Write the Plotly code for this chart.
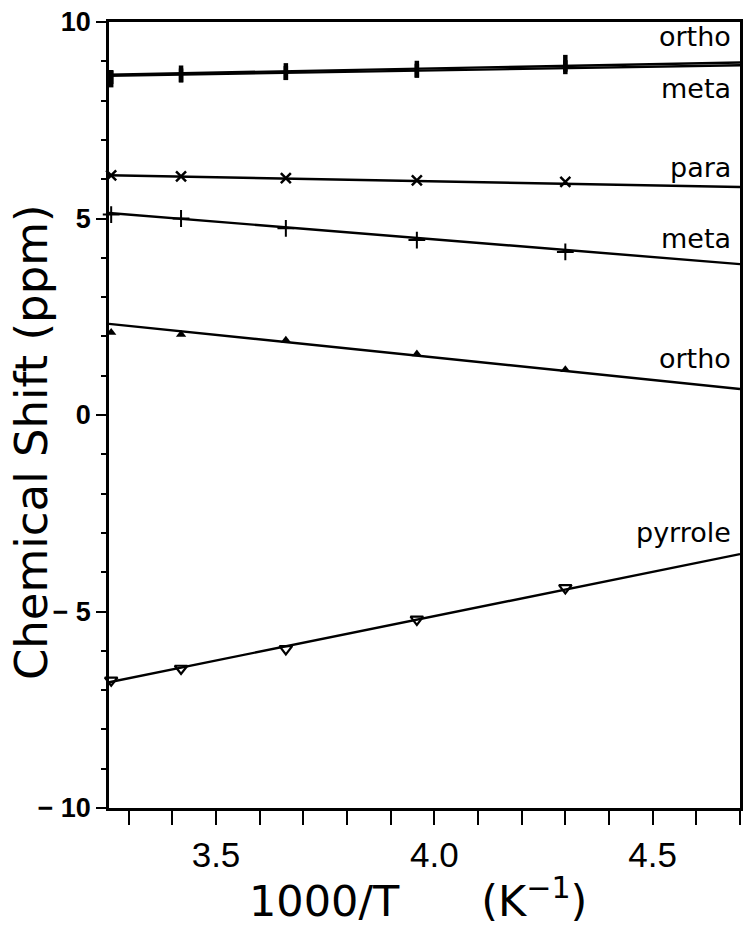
import plotly.graph_objects as go

# measured temperatures (1000/T)
x_pts = [3.26, 3.42, 3.66, 3.96, 4.30]

# chemical shifts (ppm)
ortho_top = [8.55, 8.68, 8.74, 8.8, 8.95]
meta_top = [8.6, 8.64, 8.7, 8.76, 8.85]
para = [6.1, 6.07, 6.03, 5.97, 5.93]
meta_mid = [5.1, 5.0, 4.75, 4.45, 4.15]
ortho_low = [2.1, 2.05, 1.9, 1.55, 1.15]
pyrrole = [-6.75, -6.45, -5.95, -5.2, -4.4]

# least-squares fit lines (values at x ends)
fit_x = [3.255, 4.70]
fit_ortho_top = [8.66, 8.97]
fit_meta_top = [8.63, 8.90]
fit_para = [6.1, 5.8]
fit_meta_mid = [5.14, 3.84]
fit_ortho_low = [2.32, 0.66]
fit_pyrrole = [-6.8, -3.54]

labels = ["ortho", "meta", "para", "meta", "ortho", "pyrrole"]
label_y = [9.62, 8.3, 6.3, 4.5, 1.45, -3.0]

y_tickvals = [10, 5, 0, -5, -10]
y_ticktext = ["10", "5", "0", "\u2212 5", "\u2212 10"]
x_tickvals = [3.5, 4.0, 4.5]
x_ticktext = ["3.5", "4.0", "4.5"]

fig = go.Figure()

fits = [fit_ortho_top, fit_meta_top, fit_para, fit_meta_mid, fit_ortho_low, fit_pyrrole]
for f in fits:
    fig.add_trace(go.Scatter(x=fit_x, y=f, mode="lines",
                             line=dict(color="black", width=2.4),
                             showlegend=False, hoverinfo="skip"))

series = [
    (ortho_top, dict(symbol="line-ns", size=12, line=dict(width=4.5, color="black"), color="black")),
    (meta_top, dict(symbol="line-ns", size=10, line=dict(width=4.5, color="black"), color="black")),
    (para, dict(symbol="x-thin", size=10, line=dict(width=2.5, color="black"), color="black")),
    (meta_mid, dict(symbol="cross-thin", size=12, line=dict(width=2, color="black"), color="black")),
    (ortho_low, dict(symbol="triangle-up", size=9, color="black", line=dict(width=0))),
    (pyrrole, dict(symbol="triangle-down-open", size=11, color="black", line=dict(width=2.2, color="black"))),
]
for ys, mk in series:
    fig.add_trace(go.Scatter(x=x_pts, y=ys, mode="markers", marker=mk,
                             showlegend=False, cliponaxis=False))

for txt, yv in zip(labels, label_y):
    fig.add_annotation(x=1.0, xref="paper", y=yv, yref="y", text=txt,
                       showarrow=False, xanchor="right", xshift=-7,
                       font=dict(family="DejaVu Sans", size=27, color="black"))

# axis titles
fig.add_annotation(x=-0.123, xref="paper", y=0.466, yref="paper",
                   text="Chemical Shift (ppm)", textangle=-90, showarrow=False,
                   xanchor="center", yanchor="middle",
                   font=dict(family="DejaVu Sans", size=45, color="black"))
fig.add_annotation(x=0.49, xref="paper", y=-0.1145, yref="paper",
                   text="1000/T\u00a0\u00a0\u00a0\u00a0\u00a0\u00a0(K<sup>\u22121</sup>)", showarrow=False,
                   xanchor="center", yanchor="middle",
                   font=dict(family="DejaVu Sans", size=43, color="black"))

fig.update_layout(
    width=745, height=926,
    margin=dict(l=109, r=2, t=22, b=118),
    paper_bgcolor="white", plot_bgcolor="white",
    xaxis=dict(range=[3.255, 4.70], tickvals=x_tickvals, ticktext=x_ticktext,
               ticks="outside", ticklen=14, tickwidth=2, tickcolor="black",
               minor=dict(dtick=0.1, tick0=3.0, ticks="outside", ticklen=14, tickwidth=2, tickcolor="black"),
               showline=True, linecolor="black", linewidth=2.5, mirror=True,
               showgrid=False, zeroline=False,
               tickfont=dict(family="Liberation Sans", size=35, color="black")),
    yaxis=dict(range=[-10, 10], tickvals=y_tickvals, ticktext=y_ticktext,
               ticks="outside", ticklen=10, tickwidth=2, tickcolor="black",
               minor=dict(dtick=1, ticks="outside", ticklen=5, tickwidth=2, tickcolor="black"),
               showline=True, linecolor="black", linewidth=2.5, mirror=True,
               showgrid=False, zeroline=False,
               tickfont=dict(family="Liberation Sans", size=27, color="black", weight="bold")),
)

fig.write_html("out.html")
